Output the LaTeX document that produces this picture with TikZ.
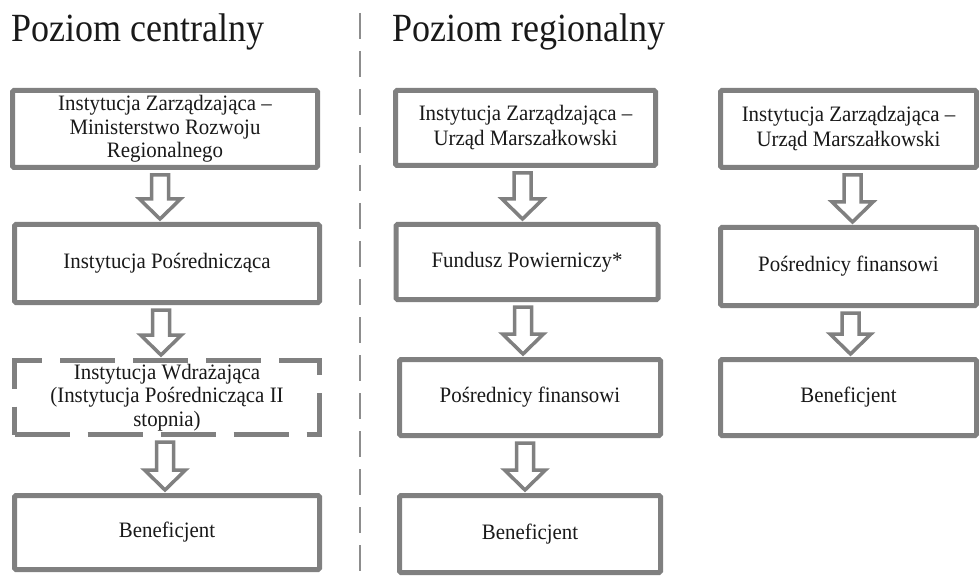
\documentclass[tikz,border=0pt]{standalone}
\usepackage{fontspec}
\setmainfont{Liberation Serif}
\newfontfamily\titlefont[FakeStretch=0.9]{Liberation Serif}
\newfontfamily\boxfont[FakeStretch=0.95]{Liberation Serif}
\usetikzlibrary{calc}
\definecolor{boxgray}{RGB}{128,128,128}
\definecolor{txt}{RGB}{25,25,25}
\tikzset{
  box/.style={draw=boxgray, line width=5pt, rounded corners=1.5pt, fill=white,
    align=center, text=txt, inner sep=0pt,
    font=\boxfont\fontsize{22}{25}\selectfont},
  box3/.style={box, font=\boxfont\fontsize{22}{23.5}\selectfont},
  dbox/.style={box3, dash pattern=on 55pt off 18pt, rounded corners=0pt},
  harrow/.style={draw=boxgray, line width=3.5pt, fill=white, line join=miter},
  title/.style={anchor=base west, inner sep=0pt, text=txt, font=\titlefont\fontsize{40}{44}\selectfont},
  divider/.style={draw=boxgray!90, line width=2pt, dash pattern=on 26pt off 12pt}
}
\newcommand{\harrow}[3][0]{%
  \draw[harrow] let \p1=($(#2.south)+(#1,0)$), \p2=(#3.north) in
   (\x1-8.5pt,\y1-5pt) -- (\x1+8.5pt,\y1-5pt) -- (\x1+8.5pt,\y2+23pt) --
   (\x1+20.5pt,\y2+23pt) -- (\x1,\y2+3pt) -- (\x1-20.5pt,\y2+23pt) --
   (\x1-8.5pt,\y2+23pt) -- cycle;}
\begin{document}
\begin{tikzpicture}[x=1pt,y=-1pt]
\useasboundingbox (0,0) rectangle (979,577);
% titles
\node[title] (t1) at (11,42) {Poziom centralny};
\node[title] (t2) at (392,42) {Poziom regionalny};
% divider
\coordinate (d1) at (360,13);
\coordinate (d2) at (360,576);
\draw[divider] (d1) -- (d2);
% left column
\node[box3, minimum width=305, minimum height=77] (L1) at (165,129) {Instytucja Zarządzająca –\\Ministerstwo Rozwoju\\Regionalnego};
\node[box, minimum width=305, minimum height=78] (L2) at (167,263.5) {Instytucja Pośrednicząca};
\node[dbox, minimum width=305, minimum height=74] (L3) at (167,397.5) {Instytucja Wdrażająca\\(Instytucja Pośrednicząca II\\stopnia)};
\node[box, minimum width=305, minimum height=74] (L4) at (167,532.5) {Beneficjent};
% middle column
\node[box, minimum width=260, minimum height=75] (M1) at (525.5,128) {Instytucja Zarządzająca –\\Urząd Marszałkowski};
\node[box, minimum width=262, minimum height=75] (M2) at (527,262) {Fundusz Powierniczy*};
\node[box, minimum width=261, minimum height=76] (M3) at (530,397.5) {Pośrednicy finansowi};
\node[box, minimum width=261, minimum height=77] (M4) at (530,534) {Beneficjent};
% right column
\node[box, minimum width=256, minimum height=77] (R1) at (848.5,129) {Instytucja Zarządzająca –\\Urząd Marszałkowski};
\node[box, minimum width=256, minimum height=78] (R2) at (848.5,266.5) {Pośrednicy finansowi};
\node[box, minimum width=256, minimum height=76] (R3) at (848.5,397.5) {Beneficjent};
% arrows
\harrow[-5]{L1}{L2}
\harrow[-6]{L2}{L3}
\harrow[-2]{L3}{L4}
\harrow[-3]{M1}{M2}
\harrow[-4]{M2}{M3}
\harrow[-5]{M3}{M4}
\harrow[4]{R1}{R2}
\harrow[2]{R2}{R3}
\end{tikzpicture}
\end{document}
